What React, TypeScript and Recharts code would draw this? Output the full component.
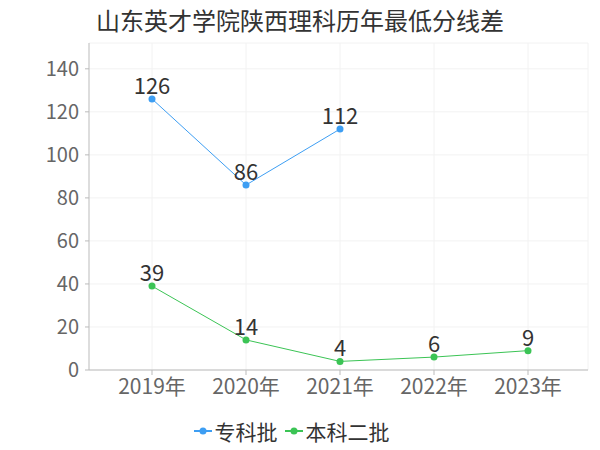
import { LineChart, Line, XAxis, YAxis, CartesianGrid, Legend, LabelList } from "recharts";

const years = ["2019年", "2020年", "2021年", "2022年", "2023年"];
const zhuanke = [126, 86, 112, null, null];
const benke2 = [39, 14, 4, 6, 9];
const yTicks = [0, 20, 40, 60, 80, 100, 120, 140];

const chartData = years.map((year, i) => ({
  year,
  zhuanke: zhuanke[i],
  benke2: benke2[i],
}));

const FONT = '"Noto Sans CJK SC", "Noto Sans", sans-serif';
const BLUE = "#3d9ef3";
const GREEN = "#3bc455";

const PAD_L = 63;
const PAD_R = 60;

const legendItems = [
  { name: "专科批", color: BLUE },
  { name: "本科二批", color: GREEN },
];

const renderLegend = () => (
  <div style={{ display: "flex", justifyContent: "center", alignItems: "center", fontFamily: FONT, paddingTop: 6 }}>
    {legendItems.map((item) => (
      <span key={item.name} style={{ display: "inline-flex", alignItems: "center", marginRight: 6 }}>
        <svg width={20} height={12}>
          <line x1={1} y1={6} x2={19} y2={6} stroke={item.color} strokeWidth={2} />
          <circle cx={10} cy={6} r={3.5} fill={item.color} />
        </svg>
        <span style={{ fontSize: 21, color: "#333", marginLeft: 2 }}>{item.name}</span>
      </span>
    ))}
  </div>
);

export default function App() {
  return (
    <div style={{ position: "absolute", left: 0, top: 0, width: 600, height: 450, background: "#fff" }}>
      <div
        style={{
          position: "absolute",
          top: 2,
          width: 600,
          textAlign: "center",
          fontFamily: FONT,
          fontSize: 24,
          color: "#333",
        }}
      >
        山东英才学院陕西理科历年最低分线差
      </div>
      <LineChart width={600} height={450} data={chartData} margin={{ top: 43, right: 12, left: 0, bottom: 0 }}>
        <CartesianGrid
          stroke="#f2f2f2"
          verticalCoordinatesGenerator={({ offset }: any) => {
            const step = (offset.width - PAD_L - PAD_R) / (years.length - 1);
            return [...years.map((_, i) => offset.left + PAD_L + i * step), offset.left + offset.width];
          }}
          horizontalCoordinatesGenerator={({ offset }: any) => {
            const h = offset.height;
            return [...yTicks.map((t) => offset.top + h - (t / 152) * h), offset.top];
          }}
        />
        <XAxis
          dataKey="year"
          padding={{ left: PAD_L, right: PAD_R }}
          height={40}
          stroke="#bbb"
          tickSize={5}
          tickMargin={4}
          tick={{ fill: "#666", fontSize: 21, fontFamily: FONT }}
        />
        <YAxis
          domain={[0, 152]}
          ticks={yTicks}
          width={89}
          stroke="#bbb"
          tickSize={4}
          tickMargin={6}
          tick={{ fill: "#666", fontSize: 20, fontFamily: FONT }}
        />
        <Legend verticalAlign="bottom" height={40} content={renderLegend} wrapperStyle={{ bottom: 0 }} />
        <Line
          dataKey="zhuanke"
          name="专科批"
          stroke={BLUE}
          strokeWidth={1}
          dot={{ r: 3.5, fill: BLUE, stroke: BLUE, strokeWidth: 0 }}
          activeDot={false}
          isAnimationActive={false}
        >
          <LabelList dataKey="zhuanke" position="top" offset={5} fill="#333" fontSize={22} fontFamily={FONT} />
        </Line>
        <Line
          dataKey="benke2"
          name="本科二批"
          stroke={GREEN}
          strokeWidth={1}
          dot={{ r: 3.5, fill: GREEN, stroke: GREEN, strokeWidth: 0 }}
          activeDot={false}
          isAnimationActive={false}
        >
          <LabelList dataKey="benke2" position="top" offset={5} fill="#333" fontSize={22} fontFamily={FONT} />
        </Line>
      </LineChart>
    </div>
  );
}
